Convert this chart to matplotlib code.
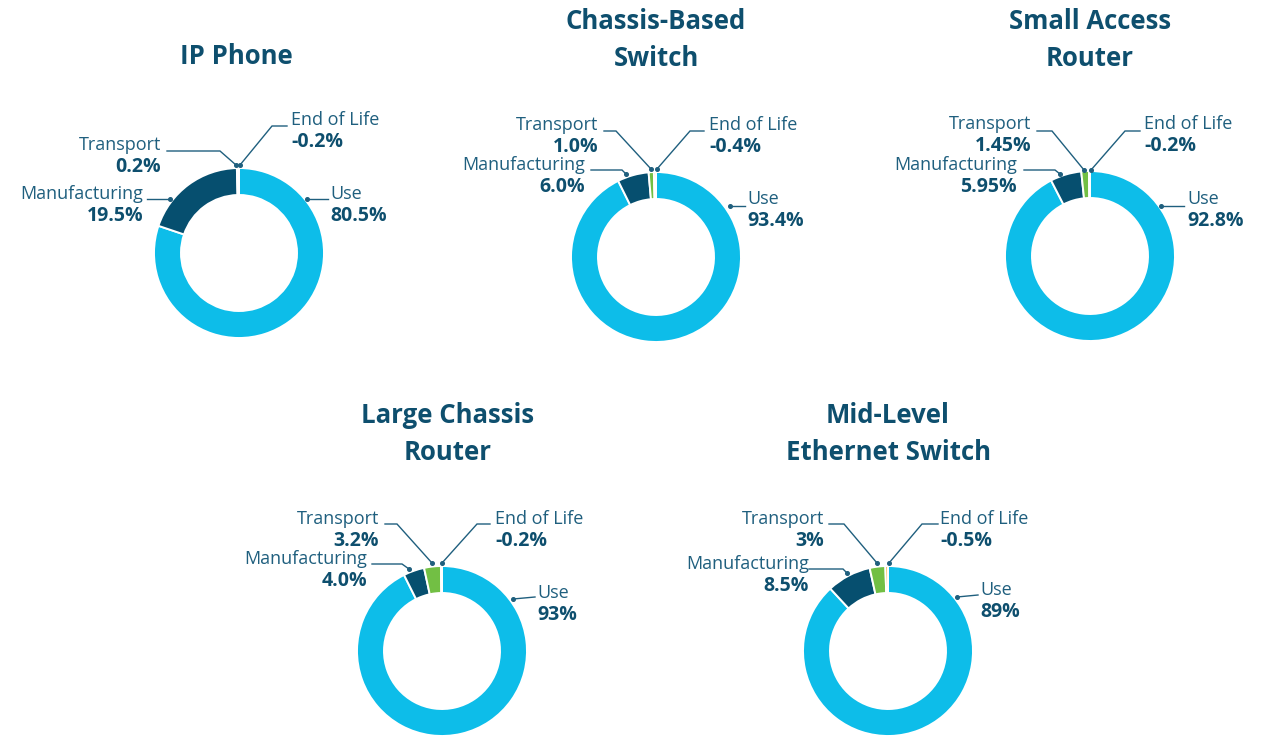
"""
Life-cycle share of five network products, drawn as five donuts.
Writes out.png (1267 x 736).
"""
import matplotlib
matplotlib.use("Agg")
import matplotlib.pyplot as plt

TITLES = ["IP Phone", "Chassis-Based\nSwitch", "Small Access\nRouter",
          "Large Chassis\nRouter", "Mid-Level\nEthernet Switch"]
STAGES = ["Use", "Manufacturing", "Transport", "End of Life"]

# percentages as printed on the chart
USE = ["80.5", "93.4", "92.8", "93", "89"]
MANUFACTURING = ["19.5", "6.0", "5.95", "4.0", "8.5"]
TRANSPORT = ["0.2", "1.0", "1.45", "3.2", "3"]
END_OF_LIFE = ["-0.2", "-0.4", "-0.2", "-0.2", "-0.5"]

INK = "#0e4f6e"
LABEL = "#1f5f7e"
COLORS = ["#0dbde9", "#064f6f", "#72bf44", "#f5a623"]

W, H = 1267, 736
R_OUT, RING = 85, 27

# layout in pixels: donut centres, title centres
CENTERS = [(239, 253), (656, 257), (1090, 256), (442, 651), (888, 651)]
TITLE_POS = [(236, 55), (656, 39), (1090, 39), (448, 433), (888, 433)]

# per chart, per stage: text anchor (dx, dy, ha) and leader path, relative to centre
LAYOUT = [
    {"Use": ((91, -59, "left"), [(89, -54), (68, -54)]),
     "Manufacturing": ((-96, -59, "right"), [(-92, -54), (-69, -54)]),
     "Transport": ((-78, -108, "right"), [(-72, -102), (-19, -102), (-3, -88)]),
     "End of Life": ((52, -133, "left"), [(48, -127), (33, -127), (1, -88)])},
    {"Use": ((91, -58, "left"), [(89, -51), (74, -51)]),
     "Manufacturing": ((-71, -92, "right"), [(-65, -87), (-34, -87), (-30, -83)]),
     "Transport": ((-58, -132, "right"), [(-52, -126), (-40, -126), (-5, -88)]),
     "End of Life": ((53, -132, "left"), [(48, -126), (34, -126), (1, -88)])},
    {"Use": ((97, -57, "left"), [(94, -50), (71, -50)]),
     "Manufacturing": ((-73, -91, "right"), [(-66, -86), (-35, -86), (-30, -82)]),
     "Transport": ((-59, -132, "right"), [(-53, -125), (-38, -125), (-6, -86)]),
     "End of Life": ((54, -132, "left"), [(50, -125), (35, -125), (1, -86)])},
    {"Use": ((95, -58, "left"), [(93, -54), (71, -52)]),
     "Manufacturing": ((-75, -92, "right"), [(-70, -87), (-40, -87), (-33, -82)]),
     "Transport": ((-63, -132, "right"), [(-57, -127), (-45, -127), (-10, -88)]),
     "End of Life": ((53, -132, "left"), [(48, -127), (35, -127), (0, -88)])},
    {"Use": ((92, -61, "left"), [(90, -56), (69, -54)]),
     "Manufacturing": ((-79, -87, "right"), [(-79, -82), (-45, -82), (-41, -78)]),
     "Transport": ((-64, -132, "right"), [(-59, -127), (-44, -127), (-11, -88)]),
     "End of Life": ((52, -132, "left"), [(50, -127), (34, -127), (1, -88)])},
]

plt.rcParams["font.family"] = ["Open Sans", "DejaVu Sans"]


def Y(py):
    return H - py


fig = plt.figure(figsize=(W / 100, H / 100), dpi=100)
ax = fig.add_axes([0, 0, 1, 1])

for i, title in enumerate(TITLES):
    cx, cy = CENTERS[i]
    texts = [USE[i], MANUFACTURING[i], TRANSPORT[i], END_OF_LIFE[i]]
    sizes = [abs(float(t)) for t in texts]
    ax.pie(sizes, colors=COLORS, radius=R_OUT, center=(cx, Y(cy)),
           startangle=90, counterclock=False,
           wedgeprops=dict(width=RING, edgecolor="white", linewidth=1.4))

    tx, ty = TITLE_POS[i]
    ax.text(tx, Y(ty + 1), title, ha="center", va="center", fontsize=18.5,
            weight="bold", color=INK, linespacing=1.5)

    for stage, txt in zip(STAGES, texts):
        (dx, dy, ha), path = LAYOUT[i][stage]
        xs = [cx + p[0] for p in path]
        ys = [Y(cy + p[1]) for p in path]
        ax.plot(xs, ys, color=LABEL, lw=1.0, solid_joinstyle="miter")
        ax.plot(xs[-1], ys[-1], "o", color=LABEL, ms=2.6)
        ax.text(cx + dx, Y(cy + dy), stage, ha=ha, va="center",
                fontsize=13, color=LABEL)
        ax.text(cx + dx, Y(cy + dy + 22), txt + "%", ha=ha, va="center",
                fontsize=14, weight="bold", color=INK)

ax.set_xlim(0, W)
ax.set_ylim(0, H)
ax.set_aspect("equal")
ax.axis("off")

fig.savefig("out.png", dpi=100, facecolor="white")
